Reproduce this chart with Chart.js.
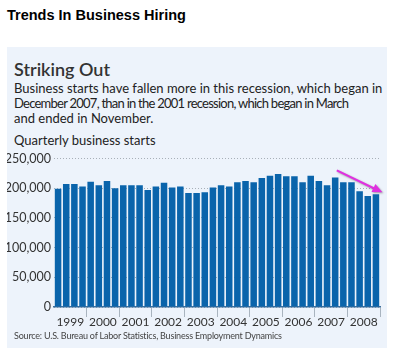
<!DOCTYPE html>
<html>
<head>
<meta charset="utf-8">
<script src="https://cdn.jsdelivr.net/npm/chart.js@4"></script>
<style>
  body { margin: 0; width: 420px; height: 364px; background: #fff; position: relative; overflow: hidden; }
  #title { position: absolute; left: 7px; top: 7px; font: bold 14.5px "Liberation Sans", Arial, sans-serif; color: #000; }
  #panel { position: absolute; left: 7px; top: 47px; width: 380px; height: 301px; background: #edf3fb; }
  #head { position: absolute; left: 7px; top: 11px; font: 600 18px Lato, sans-serif; color: #333; }
  #sub { position: absolute; left: 7px; top: 34px; white-space: nowrap; font: 13px Lato, sans-serif; line-height: 15px; color: #222; }
  #sub .tight { letter-spacing: -0.75px; }
  #unit { position: absolute; left: 7px; top: 85px; font: 13px Lato, sans-serif; color: #222; }
  #src { position: absolute; left: 7px; top: 283px; font: 9px Lato, sans-serif; letter-spacing: -0.2px; color: #444; }
  #chart { position: absolute; left: 0; top: 101px; }
</style>
</head>
<body>
<div id="title">Trends In Business Hiring</div>
<div id="panel">
  <div id="head">Striking Out</div>
  <div id="sub">Business starts have fallen more in this recession, which began in<br><span class="tight">December 2007, than in the 2001 recession, which began in March</span><br>and ended in November.</div>
  <div id="unit">Quarterly business starts</div>
  <canvas id="chart" width="380" height="185"></canvas>
  <div id="src">Source: U.S. Bureau of Labor Statistics, Business Employment Dynamics</div>
</div>
<script>
const years = ['1999', '2000', '2001', '2002', '2003', '2004', '2005', '2006', '2007', '2008'];

const quarters = [];
years.forEach(y => { for (let q = 1; q <= 4; q++) quarters.push(y + ' Q' + q); });

const starts = [
  199000, 207000, 207000, 203000,
  211000, 205000, 212000, 200000,
  205000, 205000, 205000, 197000,
  203000, 209000, 201000, 203000,
  192000, 192000, 193000, 201000,
  205000, 203000, 210000, 212000,
  210000, 217000, 221000, 224000,
  220000, 220000, 210000, 221000,
  212000, 205000, 218000, 210000,
  210000, 195000, 187000, 190000
];

const yTicks = [0, 50000, 100000, 150000, 200000, 250000];

// magenta arrow pointing at the latest quarters
const arrowPlugin = {
  id: 'arrow',
  afterDatasetsDraw(chart) {
    const x = chart.scales.x, y = chart.scales.y;
    const pitch = x.getPixelForValue(1) - x.getPixelForValue(0);
    const x0 = x.getPixelForValue(34) + pitch * 0.2, y0 = y.getPixelForValue(230000);
    const x1 = x.getPixelForValue(39) + pitch * 0.8, y1 = y.getPixelForValue(193000);
    const ang = Math.atan2(y1 - y0, x1 - x0);
    const c = chart.ctx;
    c.save();
    c.shadowColor = 'rgba(0,0,0,0.35)';
    c.shadowBlur = 2;
    c.shadowOffsetX = 1;
    c.shadowOffsetY = 1;
    c.strokeStyle = '#e030e0';
    c.fillStyle = '#e030e0';
    c.lineWidth = 2.2;
    c.beginPath();
    c.moveTo(x0, y0);
    c.lineTo(x1 - 8 * Math.cos(ang), y1 - 8 * Math.sin(ang));
    c.stroke();
    c.beginPath();
    c.moveTo(x1, y1);
    c.lineTo(x1 - 10 * Math.cos(ang) + 4.5 * Math.sin(ang), y1 - 10 * Math.sin(ang) - 4.5 * Math.cos(ang));
    c.lineTo(x1 - 10 * Math.cos(ang) - 4.5 * Math.sin(ang), y1 - 10 * Math.sin(ang) + 4.5 * Math.cos(ang));
    c.closePath();
    c.fill();
    c.restore();
  }
};

const ctx = document.getElementById('chart').getContext('2d');
const myChart = new Chart(ctx, {
  type: 'bar',
  data: {
    labels: quarters,
    datasets: [{
      data: starts,
      backgroundColor: '#0a64ab',
      barPercentage: 0.8,
      categoryPercentage: 1.0
    }]
  },
  options: {
    responsive: false,
    animation: false,
    layout: { padding: { top: 8, right: 7, left: 0, bottom: 0 } },
    plugins: { legend: { display: false }, tooltip: { enabled: false } },
    scales: {
      x: { display: false },
      years: {
        type: 'category',
        labels: years,
        position: 'bottom',
        offset: true,
        afterFit: s => { s.height = 26; },
        border: { display: true, color: '#3d6f9c', width: 1.5 },
        grid: {
          offset: true,
          drawOnChartArea: false,
          tickLength: 10,
          color: ctx => ctx.index === 0 ? 'rgba(0,0,0,0)' : '#a9b4bf'
        },
        ticks: {
          padding: -2,
          maxRotation: 0,
          minRotation: 0,
          autoSkip: false,
          color: '#333',
          font: { family: 'Lato', size: 12 }
        }
      },
      y: {
        min: 0,
        max: 250000,
        afterBuildTicks: s => { s.ticks = yTicks.map(v => ({ value: v })); },
        afterFit: s => { s.width = 47; },
        border: { display: false, dash: [1, 2] },
        grid: { color: '#a8b0b8', drawTicks: false },
        ticks: {
          padding: 3,
          color: '#333',
          font: { family: 'Lato', size: 12.5 },
          callback: v => v.toLocaleString('en-US')
        }
      }
    }
  },
  plugins: [arrowPlugin]
});
</script>
</body>
</html>
